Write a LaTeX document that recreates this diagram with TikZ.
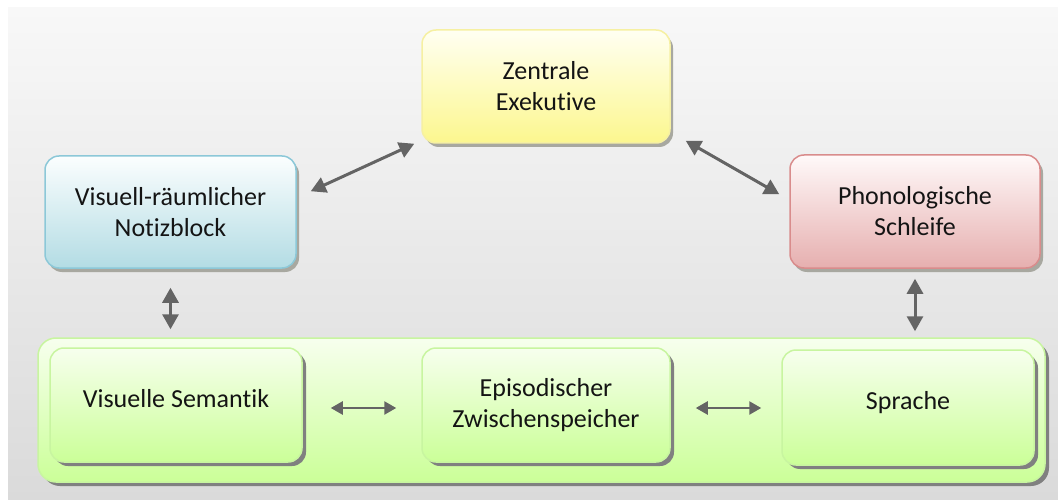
\documentclass[tikz,border=0pt]{standalone}
\usepackage{fontspec}
\setmainfont{Carlito}[Ligatures=NoCommon]
\usetikzlibrary{arrows.meta,shadows}
\definecolor{bgtop}{HTML}{F8F8F8}
\definecolor{bgbot}{HTML}{DADADA}
\definecolor{ylwtop}{HTML}{FFFFF2}
\definecolor{ylwbot}{HTML}{FCF78E}
\definecolor{ylwline}{HTML}{F6F0A2}
\definecolor{blutop}{HTML}{FBFEFE}
\definecolor{blubot}{HTML}{B3DCE4}
\definecolor{bluline}{HTML}{8CC8D8}
\definecolor{redtop}{HTML}{FFF9F9}
\definecolor{redbot}{HTML}{E6AFAF}
\definecolor{redline}{HTML}{D98C8C}
\definecolor{grntop}{HTML}{F7FFEE}
\definecolor{grnbot}{HTML}{CBFF98}
\definecolor{grnline}{HTML}{C8F5A0}
\definecolor{arrowgray}{HTML}{646464}
\definecolor{shadowdark}{HTML}{808080}
\definecolor{shadowlight}{HTML}{A8A8A0}
\tikzset{
  box/.style={rounded corners=14pt, line width=1.5pt, align=center,
    inner sep=0pt, font=\fontsize{26}{31}\selectfont, text=black!92},
  topbox/.style={box, drop shadow={shadow xshift=3pt, shadow yshift=-4pt,
    fill=shadowlight, opacity=1}},
  grnbox/.style={box, top color=grntop, bottom color=grnbot, draw=grnline,
    drop shadow={shadow xshift=4pt, shadow yshift=-4pt, fill=shadowdark, opacity=1}},
  link/.style={draw=arrowgray, line width=3pt,
    {Triangle[length=15pt,width=16pt]}-{Triangle[length=15pt,width=16pt]}},
  hlink/.style={draw=arrowgray, line width=2.5pt,
    {Triangle[length=12pt,width=13pt]}-{Triangle[length=12pt,width=13pt]}}
}
\begin{document}
\begin{tikzpicture}[x=1pt,y=-1pt]
  \useasboundingbox (0,0) rectangle (1058,500);
  % backdrop
  \fill[top color=bgtop, bottom color=bgbot] (8,8) rectangle (1058,500);

  % upper row of components
  \node[topbox, top color=ylwtop, bottom color=ylwbot, draw=ylwline,
        minimum width=248pt, minimum height=113pt] (ze) at (546,86.5)
        {Zentrale\\Exekutive};
  \node[topbox, top color=blutop, bottom color=blubot, draw=bluline,
        minimum width=251pt, minimum height=112pt] (vn) at (170.5,212)
        {Visuell-räumlicher\\Notizblock};
  \node[topbox, top color=redtop, bottom color=redbot, draw=redline,
        minimum width=250pt, minimum height=113pt] (ps) at (915,211.5)
        {Phonologische\\Schleife};

  % long-term store band
  \node[grnbox, rounded corners=18pt, minimum width=1007pt, minimum height=144pt]
        (big) at (541.5,410) {};
  \node[grnbox, minimum width=252pt, minimum height=114pt, text depth=14pt]
        (vs) at (176,405) {Visuelle Semantik};
  \node[grnbox, minimum width=248pt, minimum height=114pt]
        (ez) at (546,405) {Episodischer\\Zwischenspeicher};
  \node[grnbox, minimum width=252pt, minimum height=115pt, text depth=14pt]
        (sp) at (908,407.5) {Sprache};

  % connectors
  \draw[link] ([xshift=14pt,yshift=-36pt]vn.north east) -- ([xshift=-7pt]ze.south west);
  \draw[link] ([xshift=15pt,yshift=3pt]ze.south east) -- ([xshift=-10pt,yshift=-40pt]ps.north west);
  \coordinate (vnb) at (vn.south |- big.north);
  \coordinate (psb) at (ps.south |- big.north);
  \draw[link] ([yshift=-19pt]vn.south) -- ([yshift=8pt]vnb);
  \draw[link] ([yshift=-10pt]ps.south) -- ([yshift=6pt]psb);
  \draw[hlink] ([xshift=28pt,yshift=-3pt]vs.east) -- ([xshift=-25pt,yshift=-3pt]ez.west);
  \draw[hlink] ([xshift=25pt,yshift=-3pt]ez.east) -- ([xshift=-20pt,yshift=-0.5pt]sp.west);
\end{tikzpicture}
\end{document}
